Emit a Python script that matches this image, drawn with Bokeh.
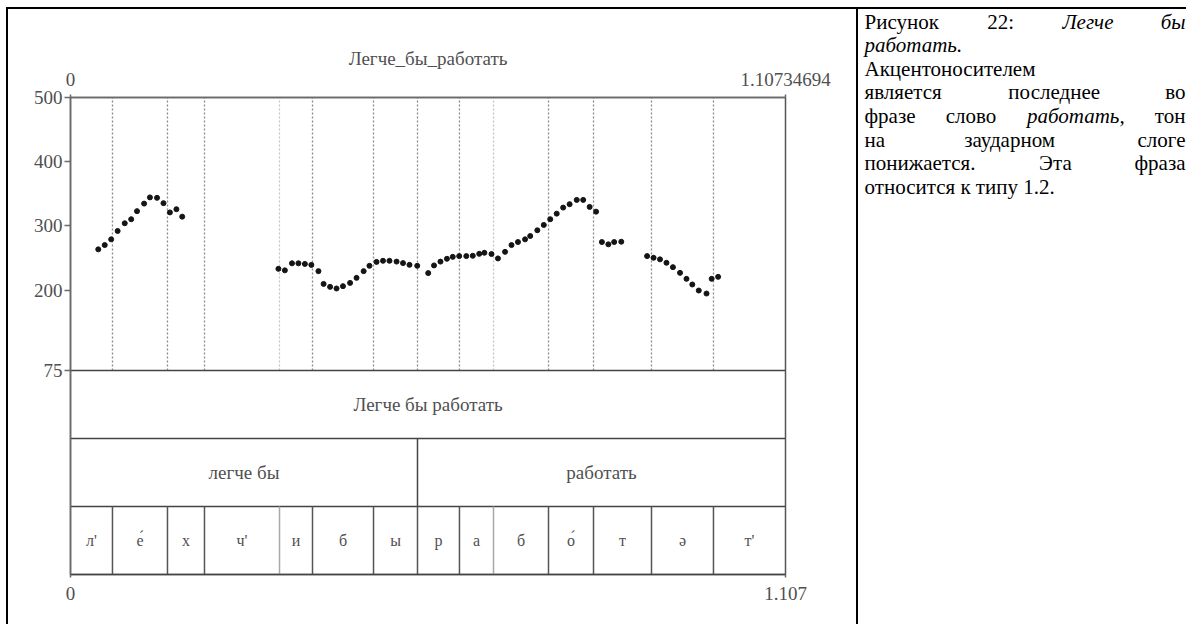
from bokeh.plotting import figure
from bokeh.models import Range1d, LinearAxis, FixedTicker, Spacer, Grid
from bokeh.layouts import row, column
from bokeh.embed import file_html
from bokeh.resources import INLINE
from bokeh.core.properties import value

# ---------------- data ----------------
total_duration = 1.10734694
pitch_floor, pitch_ceiling = 75, 500
pitch_ticks = [75, 200, 300, 400, 500]
chart_title = "Легче_бы_работать"

pitch_times = [
    0.043, 0.053, 0.063, 0.073, 0.084, 0.094, 0.103, 0.114, 0.123, 0.134, 0.144, 0.154, 0.164, 0.173,
    0.322, 0.332, 0.343, 0.353, 0.363, 0.373, 0.384, 0.392, 0.402, 0.412, 0.422, 0.433, 0.443, 0.454,
    0.463, 0.474, 0.484, 0.494, 0.505, 0.515, 0.525, 0.537, 0.554, 0.563, 0.573, 0.583, 0.592, 0.602,
    0.613, 0.623, 0.633, 0.641, 0.652, 0.662, 0.673, 0.683, 0.693, 0.704, 0.712, 0.723, 0.733, 0.743,
    0.753, 0.763, 0.773, 0.784, 0.794, 0.804, 0.814,
    0.823, 0.833, 0.842, 0.853,
    0.893, 0.903, 0.913, 0.923, 0.933, 0.944, 0.954, 0.963, 0.973, 0.985,
    0.993, 1.003,
]
pitch_hz = [
    263.6, 270.3, 279.2, 292.2, 304.2, 310.5, 323.1, 334.8, 344.5, 343.8, 335.5, 321.1, 326.1, 314.5,
    233.3, 230.9, 241.9, 241.9, 240.9, 239.4, 229.7, 209.8, 205.2, 202.7, 206.3, 211.4, 219.2, 229.7,
    238.0, 244.1, 245.8, 245.8, 244.5, 242.2, 239.5, 238.0, 226.6, 238.6, 244.5, 248.9, 251.9, 253.1,
    253.1, 253.6, 256.6, 258.3, 256.3, 249.5, 259.7, 270.3, 275.0, 279.2, 284.4, 293.3, 301.6, 310.5,
    319.2, 328.6, 333.9, 340.6, 340.6, 329.7, 322.3,
    275.0, 271.4, 275.0, 275.5,
    253.1, 250.5, 248.0, 242.7, 235.9, 227.0, 217.7, 208.9, 199.5, 194.8,
    217.7, 220.8,
]

sentence_labels = ["Легче бы работать"]
sentence_bounds = [0.0, 1.10734694]
word_labels = ["легче бы", "работать"]
word_bounds = [0.0, 0.5374, 1.10734694]
segment_labels = ["л'", "е\u0301", "х", "ч'", "и", "б", "ы",
                  "р", "а", "б", "о\u0301", "т", "ə", "т'"]
segment_bounds = [0.0, 0.0650, 0.1502, 0.2075, 0.3237, 0.3748, 0.4693, 0.5374,
                  0.6024, 0.6551, 0.7403, 0.8100, 0.8998, 0.9958, 1.10734694]

caption_lines = [
    [("Рисунок", False), ("22:", False), ("Легче", True), ("бы", True)],
    [("работать.", True)],
    [("Акцентоносителем", False)],
    [("является", False), ("последнее", False), ("во", False)],
    [("фразе", False), ("слово", False), ("работать,", True), ("тон", False)],
    [("на", False), ("заударном", False), ("слоге", False)],
    [("понижается.", False), ("Эта", False), ("фраза", False)],
    [("относится к типу 1.2.", False)],
]
caption_justified = [True, False, False, True, True, True, True, False]

# ---------------- layout constants ----------------
SERIF = "Liberation Serif"
INK = "#505050"
FIG_H = 615
BORDER_T, BORDER_B = 88, 50
FRAME_H = FIG_H - BORDER_T - BORDER_B   # 477
TIER_H = 68
n_tiers = 3
pitch_px = FRAME_H - n_tiers * TIER_H
y_start = pitch_ceiling - (pitch_ceiling - pitch_floor) * FRAME_H / pitch_px


def no_grids(fig):
    fig.center = [r for r in fig.center if not isinstance(r, Grid)]


p = figure(width=848, height=FIG_H,
           x_range=Range1d(0, total_duration), y_range=Range1d(y_start, pitch_ceiling),
           x_axis_location=None, y_axis_location=None,
           output_backend="svg", toolbar_location=None,
           min_border_left=62, min_border_right=71, min_border_top=BORDER_T, min_border_bottom=BORDER_B,
           title=chart_title)
no_grids(p)
p.extra_y_ranges = {"tiers": Range1d(0, FRAME_H / TIER_H)}
p.outline_line_color = "#555555"
p.outline_line_width = 1.5
p.background_fill_color = "white"
p.border_fill_color = "white"

p.title.align = "center"
p.title.text_font = SERIF
p.title.text_font_size = "19px"
p.title.text_font_style = "normal"
p.title.text_color = INK
p.title.standoff = 2


def style_axis(ax, tick_out):
    ax.axis_line_color = "#6a6a6a"
    ax.axis_line_width = 1.5
    ax.major_tick_line_color = "#6a6a6a"
    ax.major_tick_line_width = 1.5
    ax.major_tick_out = tick_out
    ax.major_tick_in = 0
    ax.minor_tick_line_color = None
    ax.major_label_text_font = SERIF
    ax.major_label_text_font_size = "19px"
    ax.major_label_text_color = INK


yax = LinearAxis(ticker=FixedTicker(ticks=pitch_ticks))
style_axis(yax, 6)
yax.major_label_standoff = 2
p.add_layout(yax, "left")

top_ax = LinearAxis(ticker=FixedTicker(ticks=[0, total_duration]),
                    major_label_overrides={0: "0", total_duration: "1.10734694"})
style_axis(top_ax, 3)
top_ax.major_label_standoff = 9
p.add_layout(top_ax, "above")

bot_ax = LinearAxis(ticker=FixedTicker(ticks=[0, total_duration]),
                    major_label_overrides={0: "0", total_duration: "1.107"})
style_axis(bot_ax, 3)
bot_ax.axis_line_color = "#444444"
bot_ax.major_label_standoff = 9
p.add_layout(bot_ax, "below")

# pitch-area boundary lines (dotted)
inner = segment_bounds[1:-1]
light = {inner[3], inner[8]}
dark_b = [b for b in inner if b not in light]
light_b = [b for b in inner if b in light]
p.segment(x0=dark_b, y0=[pitch_floor] * len(dark_b), x1=dark_b, y1=[pitch_ceiling] * len(dark_b),
          line_color="#8a8a8a", line_width=1.3, line_dash="2 2")
p.segment(x0=light_b, y0=[pitch_floor] * len(light_b), x1=light_b, y1=[pitch_ceiling] * len(light_b),
          line_color="#c4c4c4", line_width=1.3, line_dash="2 2")

# tier horizontal lines
tier_levels = [1, 2, 3]
p.segment(x0=[0] * 3, y0=tier_levels, x1=[total_duration] * 3, y1=tier_levels,
          y_range_name="tiers", line_color="#444444", line_width=1.5)

# word tier boundary
wb = word_bounds[1:-1]
p.segment(x0=wb, y0=[1] * len(wb), x1=wb, y1=[2] * len(wb), y_range_name="tiers",
          line_color="#444444", line_width=1.5)

# segment tier boundaries
p.segment(x0=dark_b, y0=[0] * len(dark_b), x1=dark_b, y1=[1] * len(dark_b), y_range_name="tiers",
          line_color="#555555", line_width=1.5)
p.segment(x0=light_b, y0=[0] * len(light_b), x1=light_b, y1=[1] * len(light_b), y_range_name="tiers",
          line_color="#a8a8a8", line_width=1.5)


def centers(bounds):
    return [(a + b) / 2 for a, b in zip(bounds[:-1], bounds[1:])]


p.text(x=centers(sentence_bounds), y=[2.5] * len(sentence_labels), text=sentence_labels,
       y_range_name="tiers", text_align="center", text_baseline="middle",
       text_font=value(SERIF), text_font_size="19px", text_color=INK)
p.text(x=centers(word_bounds), y=[1.5] * len(word_labels), text=word_labels,
       y_range_name="tiers", text_align="center", text_baseline="middle",
       text_font=value(SERIF), text_font_size="19px", text_color=INK)
p.text(x=centers(segment_bounds), y=[0.5] * len(segment_labels), text=segment_labels,
       y_range_name="tiers", text_align="center", text_baseline="middle",
       text_font=value(SERIF), text_font_size="16px", text_color=INK)

# pitch points
p.scatter(x=pitch_times, y=pitch_hz, size=5, color="#151515", line_color="#151515")

# ---------------- caption (right cell) ----------------
TW = 328
t = figure(width=TW, height=FIG_H, x_range=Range1d(0, TW),
           y_range=Range1d(FIG_H - BORDER_B, BORDER_T),
           x_axis_location=None, y_axis_location=None,
           output_backend="svg", toolbar_location=None,
           min_border_left=0, min_border_right=0, min_border_top=BORDER_T, min_border_bottom=BORDER_B)
no_grids(t)
t.outline_line_color = None
t.background_fill_color = "white"
t.border_fill_color = "white"

FS = 21
REG = {'Р': .556, 'и': .535, 'с': .444, 'у': .5, 'н': .535, 'о': .5, 'к': .486, '2': .5, ':': .278,
       'Л': .651, 'е': .444, 'г': .41, 'ч': .5, 'б': .51, 'ы': .725, 'р': .5, 'а': .444, 'т': .437,
       'ь': .458, '.': .25, 'А': .722, 'ц': .535, 'л': .521, 'м': .635, 'я': .479, 'в': .472,
       'п': .535, 'д': .5, 'ф': .648, 'з': .394, ',': .25, 'ж': .718, 'Э': .667, '1': .5}
ITA = {'Л': .61, 'е': .444, 'г': .4, 'ч': .5, 'б': .5, 'ы': .67, 'р': .5, 'а': .5, 'т': .72,
       'ь': .45, '.': .25, ',': .25, 'о': .5}


def wwidth(w, it):
    tab = ITA if it else REG
    return sum(tab.get(c, REG.get(c, .5)) for c in w) * FS


X0, X1 = 6, 327
BASE0, LEAD = 12, 23.6
xs, ys, txt, styles, aligns = [], [], [], [], []
for k, (words, just) in enumerate(zip(caption_lines, caption_justified)):
    yb = BASE0 + k * LEAD
    if not just or len(words) == 1:
        for w, it in words:
            xs.append(X0); ys.append(yb); txt.append(w)
            styles.append("italic" if it else "normal"); aligns.append("left")
        continue
    widths = [wwidth(w, it) for w, it in words]
    gap = (X1 - X0 - sum(widths)) / (len(words) - 1)
    cur = X0
    for i, ((w, it), wd) in enumerate(zip(words, widths)):
        if i == len(words) - 1:
            xs.append(X1); aligns.append("right")
        else:
            xs.append(cur); aligns.append("left")
        ys.append(yb); txt.append(w); styles.append("italic" if it else "normal")
        cur += wd + gap

for a in ("left", "right"):
    for s in ("normal", "italic"):
        idx = [i for i in range(len(txt)) if aligns[i] == a and styles[i] == s]
        if not idx:
            continue
        t.text(x=[xs[i] for i in idx], y=[ys[i] for i in idx], text=[txt[i] for i in idx],
               text_align=a, text_baseline="alphabetic", text_font=value(SERIF),
               text_font_size=f"{FS}px", text_font_style=s, text_color="black", level="overlay")

# ---------------- table borders ----------------
ROW_W = 2 + 848 + 2 + TW
top_border = Spacer(width=ROW_W, height=2, styles={"background-color": "black"})
left_border = Spacer(width=2, height=FIG_H, styles={"background-color": "black"})
divider = Spacer(width=2, height=FIG_H, styles={"background-color": "black"})

table = column(top_border, row(left_border, p, divider, t))
layout = column(Spacer(width=ROW_W, height=7), row(Spacer(width=6, height=FIG_H + 2), table))

open("out.html", "w").write(file_html(layout, INLINE))
